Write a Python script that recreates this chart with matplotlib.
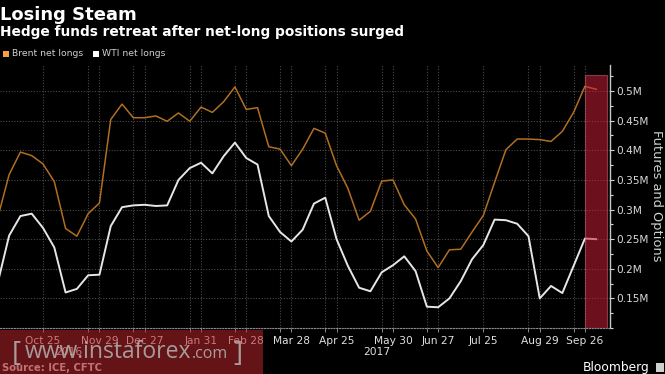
import matplotlib
matplotlib.use("Agg")
import matplotlib.pyplot as plt
from matplotlib.patches import Rectangle
import matplotlib.ticker as mticker
import pandas as pd
import numpy as np

# ---- data (net longs, millions of contracts) ----
report_dates = pd.date_range("2016-09-27", periods=54, freq="7D")
brent = [0.287, 0.359, 0.397, 0.391, 0.377, 0.347, 0.268, 0.255, 0.293, 0.311,
         0.452, 0.478, 0.455, 0.455, 0.458, 0.449, 0.463, 0.449, 0.473, 0.464,
         0.482, 0.507, 0.469, 0.472, 0.406, 0.402, 0.374, 0.402, 0.437, 0.429,
         0.374, 0.336, 0.282, 0.297, 0.348, 0.350, 0.308, 0.284, 0.230, 0.202,
         0.232, 0.233, 0.262, 0.290, 0.346, 0.401, 0.419, 0.419, 0.418, 0.415,
         0.432, 0.464, 0.508, 0.503]
wti = [0.177, 0.256, 0.289, 0.293, 0.269, 0.236, 0.160, 0.166, 0.189, 0.190,
       0.272, 0.304, 0.307, 0.308, 0.306, 0.307, 0.350, 0.370, 0.379, 0.361,
       0.390, 0.413, 0.387, 0.376, 0.289, 0.262, 0.246, 0.266, 0.310, 0.320,
       0.250, 0.205, 0.168, 0.162, 0.194, 0.206, 0.221, 0.196, 0.136, 0.135,
       0.150, 0.179, 0.216, 0.240, 0.283, 0.282, 0.276, 0.255, 0.150, 0.171,
       0.159, 0.205, 0.251, 0.250]
tick_dates = ["2016-10-25", "2016-11-29", "2016-12-27", "2017-01-31", "2017-02-28",
              "2017-03-28", "2017-04-25", "2017-05-30", "2017-06-27", "2017-07-25",
              "2017-08-29", "2017-09-26"]
tick_labels = ["Oct 25", "Nov 29", "Dec 27", "Jan 31", "Feb 28", "Mar 28",
               "Apr 25", "May 30", "Jun 27", "Jul 25", "Aug 29", "Sep 26"]
extra_grid_dates = ["2016-11-22", "2016-12-20", "2017-01-24", "2017-02-21",
                    "2017-03-21", "2017-04-18", "2017-05-23", "2017-06-20",
                    "2017-08-22", "2017-09-19"]
highlight_dates = ["2017-09-26", "2017-10-10"]
year_labels = [("2016", "2016-11-10"), ("2017", "2017-05-20")]
y_major = [0.15, 0.2, 0.25, 0.3, 0.35, 0.4, 0.45, 0.5]
y_major_labels = ["0.15M", "0.2M", "0.25M", "0.3M", "0.35M", "0.4M", "0.45M", "0.5M"]

origin = pd.Timestamp("2016-10-25")
def wk(d):
    return (pd.Timestamp(d) - origin).days / 7.0

x = np.array([wk(d) for d in report_dates])

BG = "black"
fig = plt.figure(figsize=(6.65, 3.74), dpi=100, facecolor=BG)
W, H = 665, 374
ax_left, ax_right, ax_top, ax_bot = 0, 610, 65, 328
ax = fig.add_axes([ax_left / W, 1 - ax_bot / H, (ax_right - ax_left) / W, (ax_bot - ax_top) / H])
ax.set_facecolor(BG)

ppw = 11.29
ax.set_xlim(-43 / ppw, (610 - 43) / ppw)
ax.set_ylim(0.1, 0.544)

# grid
for d in tick_dates + extra_grid_dates:
    ax.axvline(wk(d), color="#4a4a4a", lw=0.8, ls=(0, (1, 1.5)), zorder=1)
for v in y_major:
    ax.axhline(v, color="#4a4a4a", lw=0.8, ls=(0, (1, 1.5)), zorder=1)

ax.plot(x, brent, color="#b06f22", lw=1.1, zorder=3)
ax.plot(x, wti, color="#e6e6e6", lw=1.4, zorder=3)

# highlight
ax.add_patch(Rectangle((wk(highlight_dates[0]), 0.1), wk(highlight_dates[1]) - wk(highlight_dates[0]) - 0.02,
                       0.527 - 0.1, facecolor="#c81f38", alpha=0.55, edgecolor="#d06070",
                       lw=0.8, zorder=4))

# spines
for s in ["left", "top"]:
    ax.spines[s].set_visible(False)
ax.spines["right"].set_color("#c8c8c8")
ax.spines["right"].set_linewidth(1.0)
ax.spines["bottom"].set_color("#8a8a8a")
ax.spines["bottom"].set_linestyle((0, (1, 1.5)))
ax.spines["bottom"].set_linewidth(0.8)

# y axis on right
ax.yaxis.tick_right()
ax.set_yticks(y_major)
ax.set_yticklabels(y_major_labels)
ax.yaxis.set_minor_locator(mticker.MultipleLocator(0.025))
ax.tick_params(axis="y", which="both", colors="#d8d8d8", labelsize=7.6, direction="out",
               length=3, width=0.8, pad=1.5)
ax.tick_params(axis="y", which="minor", length=2.5)
fig.text(657 / W, 1 - 196 / H, "Futures and Options", rotation=-90, color="#cfcfcf",
         fontsize=9.4, ha="center", va="center")

# x axis
ax.set_xticks([wk(d) for d in tick_dates])
ax.set_xticklabels(tick_labels)
ax.set_xticks([wk(d) for d in extra_grid_dates], minor=True)
ax.tick_params(axis="x", which="both", colors="#8a8a8a", labelcolor="#e0e0e0",
               labelsize=7.7, length=3, width=0.7, pad=2.5)
for lab, d in year_labels:
    fig.text((43 + wk(d) * ppw) / W, 1 - 352 / H, lab, color="#e0e0e0", fontsize=7.7,
             ha="center", va="center")

# titles
fig.text(0, 1 - 20 / H, "Losing Steam", color="white", fontsize=13, fontweight="bold",
         ha="left", va="baseline")
fig.text(0, 1 - 36 / H, "Hedge funds retreat after net-long positions surged", color="white",
         fontsize=9.9, fontweight="bold", ha="left", va="baseline")

# legend
fig.patches.append(Rectangle((3 / W, 1 - 57 / H), 6 / W, 6 / H, transform=fig.transFigure,
                             facecolor="#f5a043", edgecolor="none"))
fig.text(12 / W, 1 - 54 / H, "Brent net longs", color="#cfcfcf", fontsize=6.7,
         ha="left", va="center")
fig.patches.append(Rectangle((93 / W, 1 - 57 / H), 6 / W, 6 / H, transform=fig.transFigure,
                             facecolor="white", edgecolor="none"))
fig.text(102 / W, 1 - 54 / H, "WTI net longs", color="#cfcfcf", fontsize=6.7,
         ha="left", va="center")

# footer
fig.text(2 / W, 1 - 368 / H, "Source: ICE, CFTC", color="#cfcfcf", fontsize=7.2,
         fontweight="bold", ha="left", va="center")
fig.text(583 / W, 1 - 367 / H, "Bloomberg", color="white", fontsize=8.8,
         ha="left", va="center")
fig.patches.append(Rectangle((656 / W, 1 - 372 / H), 8 / W, 9 / H, transform=fig.transFigure,
                             facecolor="#d0d0d0", edgecolor="none"))

# watermark
fig.patches.append(Rectangle((0, 0), 263 / W, 1 - 330 / H, transform=fig.transFigure,
                             facecolor="#b8242a", alpha=0.55, edgecolor="none", zorder=10))
wm_kw = dict(color="#b4b4b4", alpha=0.85, ha="left", va="baseline", zorder=11,
             family=["Open Sans", "DejaVu Sans"])
renderer = fig.canvas.get_renderer()
fig.text(12 / W, 1 - 361 / H, "[", fontsize=20, **wm_kw)
t_main = fig.text(25 / W, 1 - 358 / H, "www.instaforex", fontsize=16.5, **wm_kw)
bb = t_main.get_window_extent(renderer)
t_com = fig.text(bb.x1 / W + 0.5 / W, 1 - 358 / H, ".com", fontsize=11.5, **wm_kw)
bb2 = t_com.get_window_extent(renderer)
fig.text(bb2.x1 / W + 5 / W, 1 - 361 / H, "]", fontsize=20, **wm_kw)

fig.savefig("out.png", dpi=100, facecolor=BG)
